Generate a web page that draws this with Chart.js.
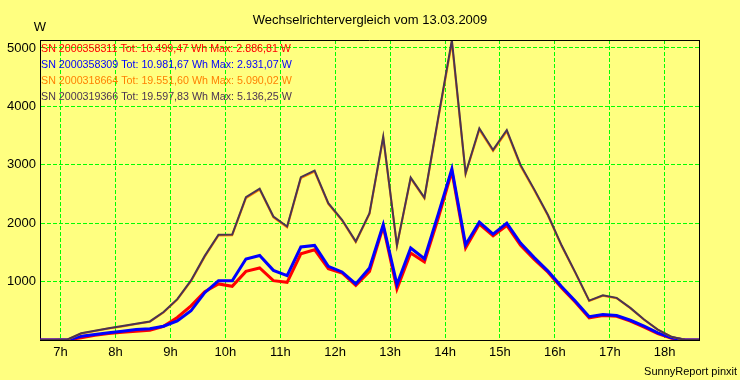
<!DOCTYPE html>
<html><head><meta charset="utf-8">
<script src="https://cdn.jsdelivr.net/npm/chart.js@4"></script>
<style>html,body{margin:0;padding:0;background:#FFFF80;}canvas{display:block}</style>
</head><body>
<canvas id="c" width="740" height="380"></canvas>
<script>
const chartTitle = "Wechselrichtervergleich vom 13.03.2009";
const unitLabel = "W";
const footerText = "SunnyReport pinxit";
const hourTicks = [7, 8, 9, 10, 11, 12, 13, 14, 15, 16, 17, 18];
const powerTicks = [1000, 2000, 3000, 4000, 5000];
// sample times (decimal hours, 15-minute intervals)
const times = [6.625, 6.875, 7.125, 7.375, 7.625, 7.875, 8.125, 8.375, 8.625, 8.875,
  9.125, 9.375, 9.625, 9.875, 10.125, 10.375, 10.625, 10.875, 11.125, 11.375,
  11.625, 11.875, 12.125, 12.375, 12.625, 12.875, 13.125, 13.375, 13.625, 13.875,
  14.125, 14.375, 14.625, 14.875, 15.125, 15.375, 15.625, 15.875, 16.125, 16.375,
  16.625, 16.875, 17.125, 17.375, 17.625, 17.875, 18.125, 18.375, 18.625];
const seriesLabels = [
  "SN 2000358311 Tot: 10.499,47 Wh Max: 2.886,81 W",
  "SN 2000358309 Tot: 10.981,67 Wh Max: 2.931,07 W",
  "SN 2000318664 Tot: 19.551,60 Wh Max: 5.090,02 W",
  "SN 2000319366 Tot: 19.597,83 Wh Max: 5.136,25 W"
];
const sn358311 = [0,0,0,40,80,110,132,150,165,235,385,585,828,960,919,1175,1233,1016,987,1477,1546,1221,1148,936,1175,1944,874,1489,1336,2080,2887,1575,1985,1785,1961,1620,1380,1160,890,645,380,420,405,325,222,110,30,0,0];
const sn358309 = [0,0,0,65,95,125,150,178,191,236,325,500,810,1015,1015,1387,1448,1192,1102,1592,1619,1261,1165,960,1233,1973,948,1575,1392,2150,2931,1631,2019,1814,2002,1660,1410,1180,912,664,400,436,418,338,236,123,38,0,0];
const sn318664 = [0,0,6,110,155,196,232,275,312,470,690,1005,1425,1790,1795,2430,2575,2100,1930,2770,2885,2330,2045,1675,2160,3460,1610,2765,2425,3775,5090,2840,3600,3235,3570,2980,2565,2125,1605,1145,668,758,714,545,346,176,53,0,0];
const sn319366 = [0,0,8,115,160,200,238,280,318,480,700,1020,1440,1802,1805,2446,2590,2115,1944,2787,2900,2343,2058,1688,2172,3481,1620,2781,2439,3800,5136,2856,3624,3254,3595,2998,2579,2140,1617,1153,675,765,721,550,350,179,55,0,0];

const colors = ["#FF0000", "#0000FF", "#FF8000", "#4A3452"];
const seriesValues = [sn358311, sn358309, sn318664, sn319366];
const widths = [3, 3, 2, 2];
const orders = [4, 3, 2, 1];
const FONT = "'Liberation Sans', Arial, sans-serif";

const datasets = seriesValues.map((vals, i) => ({
  label: seriesLabels[i],
  data: vals.map((v, k) => ({x: times[k], y: v})),
  borderColor: colors[i],
  borderWidth: widths[i],
  pointRadius: 0,
  tension: 0,
  fill: false,
  order: orders[i]
}));

const decor = {
  id: 'decor',
  beforeDraw(chart) {
    const ctx = chart.ctx;
    ctx.save();
    ctx.fillStyle = '#FFFF80';
    ctx.fillRect(0, 0, chart.width, chart.height);
    ctx.restore();
  },
  afterDraw(chart) {
    const ctx = chart.ctx, a = chart.chartArea;
    ctx.save();
    ctx.strokeStyle = '#000';
    ctx.lineWidth = 1;
    ctx.beginPath();
    ctx.moveTo(a.left, a.top + 0.5); ctx.lineTo(a.right + 0.5, a.top + 0.5);
    ctx.moveTo(a.right + 0.5, a.top); ctx.lineTo(a.right + 0.5, a.bottom + 1);
    ctx.stroke();
    ctx.fillStyle = '#000';
    ctx.textBaseline = 'middle';
    ctx.font = '13px ' + FONT;
    ctx.textAlign = 'center';
    ctx.fillText(chartTitle, 370, 20.5);
    ctx.fillText(unitLabel, 40, 27);
    ctx.font = '11px ' + FONT;
    ctx.textAlign = 'right';
    ctx.fillText(footerText, 737, 371.5);
    ctx.textAlign = 'left';
    ctx.font = '10.7px ' + FONT;
    seriesLabels.forEach((t, i) => {
      ctx.fillStyle = colors[i];
      ctx.fillText(t, a.left + 1, 49 + i * 16);
    });
    ctx.restore();
  }
};

new Chart(document.getElementById('c'), {
  type: 'line',
  data: {datasets},
  plugins: [decor],
  options: {
    responsive: false,
    animation: false,
    devicePixelRatio: 1,
    layout: {padding: {top: 40, right: 41, bottom: 0, left: 0}},
    plugins: {legend: {display: false}, title: {display: false}, tooltip: {enabled: false}},
    scales: {
      x: {
        type: 'linear', min: 6.625, max: 18.625,
        afterBuildTicks: s => { s.ticks = hourTicks.map(v => ({value: v})); },
        afterFit: s => { s.height = 40; },
        grid: {color: '#00FF00', lineWidth: 1, drawTicks: false},
        border: {display: true, color: '#000', width: 1, dash: [4, 2]},
        ticks: {color: '#000', font: {family: FONT, size: 13}, padding: 5, maxRotation: 0, autoSkip: false,
          callback: v => v + 'h'}
      },
      y: {
        type: 'linear', min: 0, max: 5136.25,
        afterBuildTicks: s => { s.ticks = powerTicks.map(v => ({value: v})); },
        afterFit: s => { s.width = 40; },
        grid: {color: '#00FF00', lineWidth: 1, drawTicks: false},
        border: {display: true, color: '#000', width: 1, dash: [4, 2]},
        ticks: {color: '#000', font: {family: FONT, size: 13}, padding: 4, autoSkip: false,
          callback: v => String(v)}
      }
    }
  }
});
</script>
</body></html>
